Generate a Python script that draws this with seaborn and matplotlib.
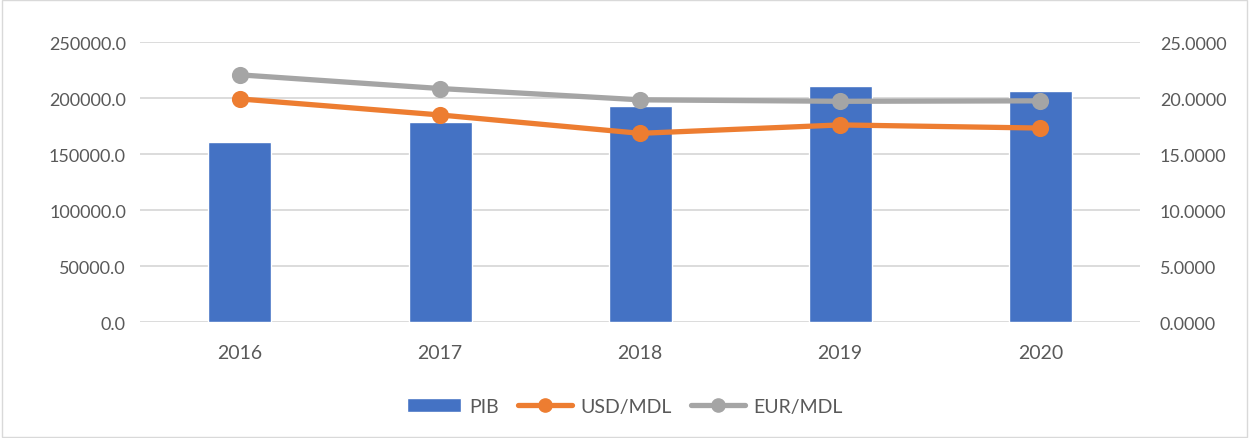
import seaborn as sns
import matplotlib.pyplot as plt
import pandas as pd
from matplotlib.lines import Line2D
from matplotlib.patches import Patch

# data
years = ['2016', '2017', '2018', '2019', '2020']
pib = [160700, 179000, 192500, 210400, 206300]
usd_mdl = [19.92, 18.49, 16.85, 17.60, 17.32]
eur_mdl = [22.07, 20.85, 19.84, 19.71, 19.75]

blue = '#4472C4'
orange = '#ED7D31'
grey = '#A5A5A5'
txt = '#595959'

sns.set_style('white')
plt.rcParams['font.family'] = ['Lato', 'DejaVu Sans']

fig = plt.figure(figsize=(12.49, 4.39), dpi=100)
ax = fig.add_axes([0.112, 0.264, 0.801, 0.638])

df_bar = pd.DataFrame({'year': years, 'PIB': pib})
sns.barplot(data=df_bar, x='year', y='PIB', color=blue, width=0.315,
            saturation=1, ax=ax, zorder=2)

ax.set_ylim(0, 250000)
ax.set_yticks(range(0, 250001, 50000))
ax.set_yticklabels([f'{v:.1f}' for v in range(0, 250001, 50000)])
ax.grid(axis='y', color='#D9D9D9', linewidth=1.3, zorder=0)
ax.set_axisbelow(True)
ax.set_xlabel('')
ax.set_ylabel('')
for s in ax.spines.values():
    s.set_visible(False)
ax.tick_params(axis='y', length=0, labelsize=13, labelcolor=txt, pad=10)
ax.tick_params(axis='x', length=0, labelsize=14, labelcolor=txt, pad=16)

ax2 = ax.twinx()
df_line = pd.DataFrame({
    'year': years * 2,
    'rate': usd_mdl + eur_mdl,
    'serie': ['USD/MDL'] * 5 + ['EUR/MDL'] * 5,
})
sns.pointplot(data=df_line, x='year', y='rate', hue='serie',
              palette={'USD/MDL': orange, 'EUR/MDL': grey},
              markers='o', markersize=9.5, linewidth=3.8, ax=ax2, legend=False)
ax2.set_ylim(0, 25)
ax2.set_yticks(range(0, 26, 5))
ax2.set_yticklabels([f'{v:.4f}' for v in range(0, 26, 5)])
ax2.set_ylabel('')
ax2.set_xlabel('')
for s in ax2.spines.values():
    s.set_visible(False)
ax2.tick_params(axis='y', length=0, labelsize=13, labelcolor=txt, pad=14)
ax.set_xlim(-0.5, 4.5)

handles = [
    Patch(facecolor=blue, label='PIB'),
    Line2D([], [], color=orange, linewidth=3.8, marker='o', markersize=9.5, label='USD/MDL'),
    Line2D([], [], color=grey, linewidth=3.8, marker='o', markersize=9.5, label='EUR/MDL'),
]
leg = fig.legend(handles=handles, loc='center', bbox_to_anchor=(0.5, 0.072), ncol=3,
                 frameon=False, fontsize=14, handlelength=2.8, columnspacing=1.0,
                 handletextpad=0.4)
for t in leg.get_texts():
    t.set_color(txt)

# chart border
fig.patches.append(plt.Rectangle((0.002, 0.002), 0.996, 0.996, transform=fig.transFigure,
                                 fill=False, edgecolor='#D9D9D9', linewidth=1))

fig.savefig('out.png', dpi=100)
